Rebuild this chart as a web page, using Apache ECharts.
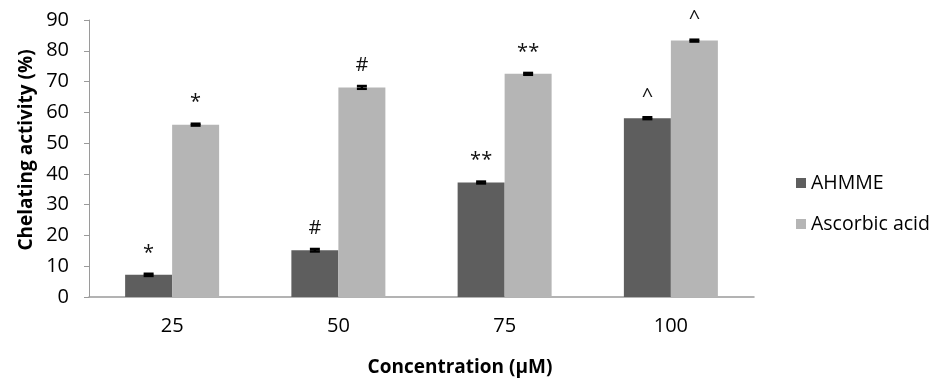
<!DOCTYPE html>
<html><head><meta charset="utf-8">
<script src="https://cdn.jsdelivr.net/npm/echarts@6/dist/echarts.min.js"></script>
<style>html,body{margin:0;padding:0;background:#fff}#c{width:940px;height:386px}</style>
</head><body><div id="c"></div>
<script>
const categories = ['25', '50', '75', '100'];
const seriesNames = ['AHMME', 'Ascorbic acid'];
const ahmme = [7.2, 15.2, 37.2, 58.1];
const ascorbic = [56.0, 68.1, 72.5, 83.3];
const ahmmeErr = [0.35, 0.4, 0.3, 0.3];
const ascorbicErr = [0.3, 0.45, 0.3, 0.3];
const marks = ['*', '#', '**', '^'];
const yTicks = [0, 10, 20, 30, 40, 50, 60, 70, 80, 90];

const FONT = '"Open Sans", "Noto Sans", sans-serif';
const BAR_W = 47;
const chart = echarts.init(document.getElementById('c'));

function errSeries(vals, errs, offset) {
  return {
    type: 'custom',
    z: 5,
    data: vals.map((v, i) => [i, v, errs[i]]),
    renderItem: function (params, api) {
      const i = api.value(0), v = api.value(1), e = api.value(2);
      const hi = api.coord([i, v + e]);
      const lo = api.coord([i, v - e]);
      const x = hi[0] + offset;
      const w = 5;
      const st = {stroke: '#000', lineWidth: 2.5};
      return {type: 'group', children: [
        {type: 'line', shape: {x1: x, y1: hi[1], x2: x, y2: lo[1]}, style: st},
        {type: 'line', shape: {x1: x - w, y1: hi[1], x2: x + w, y2: hi[1]}, style: st},
        {type: 'line', shape: {x1: x - w, y1: lo[1], x2: x + w, y2: lo[1]}, style: st}
      ]};
    }
  };
}

function barSeries(name, vals, color) {
  return {
    name: name, type: 'bar', data: vals, barWidth: BAR_W, barGap: '0%',
    itemStyle: {color: color},
    label: {show: true, position: 'top', distance: 12, color: '#111', fontSize: 20, fontFamily: FONT,
      formatter: p => marks[p.dataIndex]}
  };
}

chart.setOption({
  animation: false,
  textStyle: {fontFamily: FONT},
  grid: {left: 89, right: 186, top: 20, bottom: 89},
  legend: {
    orient: 'vertical', left: 791, top: 168, itemGap: 21,
    icon: 'rect', itemWidth: 10, itemHeight: 10,
    textStyle: {fontSize: 19.5, color: '#000', fontFamily: FONT},
    data: seriesNames
  },
  xAxis: {
    type: 'category', data: categories,
    axisLine: {lineStyle: {color: '#9a9a9a', width: 1.5}},
    axisTick: {show: false},
    axisLabel: {fontSize: 20, color: '#000', margin: 19, fontFamily: FONT}
  },
  yAxis: {
    type: 'value', min: yTicks[0], max: yTicks[yTicks.length - 1], interval: 10,
    splitLine: {show: false},
    axisLine: {show: true, lineStyle: {color: '#9a9a9a', width: 1}},
    axisTick: {show: true, length: 5, lineStyle: {color: '#9a9a9a'}},
    axisLabel: {fontSize: 20, color: '#000', margin: 20, fontFamily: FONT}
  },
  graphic: [
    {type: 'text', rotation: Math.PI / 2, x: 27, y: 150,
      style: {text: 'Chelating activity (%)', font: 'bold 19px ' + FONT, fill: '#000',
        textAlign: 'center', textVerticalAlign: 'middle'}},
    {type: 'text', x: 460, y: 368,
      style: {text: 'Concentration (µM)', font: 'bold 19px ' + FONT, fill: '#000',
        textAlign: 'center', textVerticalAlign: 'middle'}}
  ],
  series: [
    barSeries(seriesNames[0], ahmme, '#5e5e5e'),
    barSeries(seriesNames[1], ascorbic, '#b5b5b5'),
    errSeries(ahmme, ahmmeErr, -BAR_W / 2),
    errSeries(ascorbic, ascorbicErr, BAR_W / 2)
  ]
});
</script></body></html>
